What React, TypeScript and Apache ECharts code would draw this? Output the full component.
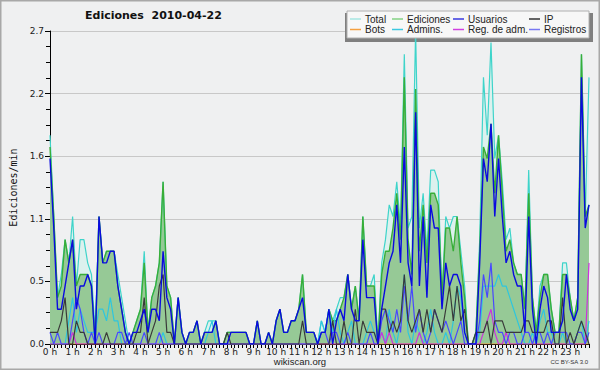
import React, { useEffect, useRef } from 'react';
import * as echarts from 'echarts';

// 144 ten-minute slots of 2010-04-22
const slots: string[] = [];
for (let h = 0; h < 24; h++) for (let m = 0; m < 60; m += 10) slots.push(`${h}:${m === 0 ? '00' : m}`);
const hourLabels = Array.from({ length: 24 }, (_, h) => `${h} h`);

const total = [
  1.8, 1.1, 0.4, 0.6, 0.9, 0.7, 1.1, 0.5, 0.9, 0.9, 0.7, 0.6, 0.1, 1.1, 0.7, 0.8, 0.8, 0.8, 0.6, 0.4, 0.2, 0.0, 0.1, 0.2,
  0.3, 0.8, 0.1, 0.4, 0.5, 0.7, 1.4, 0.5, 0.4, 0.0, 0.4, 0.1, 0.0, 0.1, 0.1, 0.2, 0.0, 0.1, 0.2, 0.2, 0.2, 0.0, 0.0, 0.1,
  0.1, 0.1, 0.1, 0.1, 0.1, 0.0, 0.0, 0.2, 0.0, 0.0, 0.1, 0.0, 0.2, 0.3, 0.1, 0.1, 0.2, 0.2, 0.3, 0.6, 0.1, 0.1, 0.1, 0.0,
  0.2, 0.1, 0.3, 0.2, 0.3, 0.4, 0.4, 0.6, 0.3, 0.5, 0.2, 1.1, 0.5, 0.5, 0.6, 0.0, 0.7, 0.9, 1.2, 1.1, 1.4, 1.0, 2.5, 1.0,
  1.1, 2.7, 1.0, 1.3, 0.8, 1.5, 1.5, 1.4, 0.4, 1.1, 1.0, 1.1, 1.1, 0.8, 0.5, 0.0, 0.0, 0.1, 0.9, 2.3, 1.8, 2.6, 1.6, 1.8,
  1.4, 0.9, 1.0, 0.7, 0.6, 0.6, 0.3, 1.5, 0.4, 0.1, 0.5, 0.6, 0.6, 0.3, 0.1, 0.1, 0.7, 0.7, 0.4, 0.2, 0.4, 2.5, 1.1, 2.3,
];
const ediciones = [
  1.7, 1.1, 0.4, 0.5, 0.9, 0.7, 0.9, 0.5, 0.6, 0.6, 0.6, 0.5, 0.0, 1.1, 0.7, 0.8, 0.8, 0.8, 0.5, 0.3, 0.1, 0.0, 0.1, 0.2,
  0.3, 0.7, 0.1, 0.4, 0.5, 0.7, 1.4, 0.5, 0.4, 0.0, 0.4, 0.1, 0.0, 0.1, 0.1, 0.2, 0.0, 0.1, 0.1, 0.1, 0.2, 0.0, 0.0, 0.1,
  0.1, 0.1, 0.1, 0.1, 0.1, 0.0, 0.0, 0.2, 0.0, 0.0, 0.1, 0.0, 0.2, 0.3, 0.1, 0.1, 0.2, 0.2, 0.3, 0.6, 0.1, 0.1, 0.1, 0.0,
  0.1, 0.1, 0.3, 0.2, 0.2, 0.3, 0.4, 0.6, 0.3, 0.5, 0.2, 1.1, 0.5, 0.5, 0.5, 0.0, 0.6, 0.8, 0.8, 1.0, 1.3, 0.9, 2.3, 0.9,
  0.6, 2.2, 0.8, 1.2, 0.7, 1.3, 1.3, 1.2, 0.4, 1.0, 1.0, 0.8, 1.1, 0.7, 0.4, 0.0, 0.0, 0.1, 0.8, 1.7, 1.6, 1.9, 1.3, 1.8,
  1.3, 0.8, 0.9, 0.7, 0.6, 0.6, 0.3, 1.3, 0.4, 0.1, 0.4, 0.6, 0.6, 0.3, 0.1, 0.1, 0.6, 0.6, 0.4, 0.2, 0.4, 2.5, 1.1, 1.2,
];
const usuarios = [
  1.6, 1.0, 0.3, 0.3, 0.5, 0.7, 0.9, 0.3, 0.5, 0.5, 0.6, 0.5, 0.0, 1.1, 0.7, 0.7, 0.8, 0.8, 0.5, 0.3, 0.1, 0.0, 0.1, 0.1,
  0.2, 0.3, 0.1, 0.3, 0.3, 0.2, 0.8, 0.4, 0.3, 0.0, 0.4, 0.1, 0.0, 0.1, 0.1, 0.2, 0.0, 0.1, 0.1, 0.1, 0.2, 0.0, 0.0, 0.0,
  0.1, 0.1, 0.1, 0.1, 0.1, 0.0, 0.0, 0.2, 0.0, 0.0, 0.1, 0.0, 0.2, 0.3, 0.1, 0.1, 0.2, 0.2, 0.3, 0.4, 0.1, 0.1, 0.1, 0.0,
  0.1, 0.1, 0.3, 0.0, 0.2, 0.3, 0.2, 0.6, 0.3, 0.2, 0.2, 0.9, 0.4, 0.4, 0.4, 0.0, 0.3, 0.5, 0.7, 0.8, 1.2, 0.7, 1.7, 0.7,
  0.5, 2.0, 0.5, 1.1, 0.4, 1.2, 1.0, 1.0, 0.3, 0.7, 0.5, 0.6, 0.6, 0.5, 0.1, 0.0, 0.0, 0.0, 0.7, 1.6, 1.4, 1.9, 1.1, 1.6,
  1.1, 0.7, 0.8, 0.6, 0.5, 0.5, 0.1, 1.1, 0.3, 0.0, 0.3, 0.5, 0.4, 0.1, 0.1, 0.1, 0.2, 0.6, 0.3, 0.2, 0.3, 2.3, 1.0, 1.2,
];
const ip = [
  0.1, 0.1, 0.1, 0.2, 0.4, 0.0, 0.0, 0.2, 0.1, 0.1, 0.0, 0.0, 0.0, 0.0, 0.0, 0.1, 0.0, 0.0, 0.0, 0.0, 0.0, 0.0, 0.0, 0.1,
  0.1, 0.4, 0.0, 0.1, 0.2, 0.5, 0.6, 0.1, 0.1, 0.0, 0.0, 0.0, 0.0, 0.0, 0.0, 0.0, 0.0, 0.0, 0.0, 0.0, 0.0, 0.0, 0.0, 0.1,
  0.0, 0.0, 0.0, 0.0, 0.0, 0.0, 0.0, 0.0, 0.0, 0.0, 0.0, 0.0, 0.0, 0.0, 0.0, 0.0, 0.0, 0.0, 0.0, 0.2, 0.0, 0.0, 0.0, 0.0,
  0.0, 0.0, 0.0, 0.2, 0.0, 0.0, 0.2, 0.0, 0.0, 0.3, 0.0, 0.2, 0.1, 0.1, 0.1, 0.0, 0.3, 0.3, 0.1, 0.2, 0.1, 0.2, 0.6, 0.2,
  0.1, 0.2, 0.3, 0.1, 0.3, 0.1, 0.3, 0.2, 0.1, 0.3, 0.5, 0.2, 0.5, 0.2, 0.3, 0.0, 0.0, 0.1, 0.1, 0.1, 0.2, 0.0, 0.2, 0.2,
  0.2, 0.1, 0.1, 0.1, 0.1, 0.1, 0.2, 0.2, 0.1, 0.1, 0.1, 0.1, 0.2, 0.2, 0.0, 0.0, 0.4, 0.0, 0.1, 0.0, 0.1, 0.2, 0.1, 0.0,
];
const bots = [
  0, 0, 0, 0, 0, 0, 0, 0, 0, 0, 0, 0, 0, 0, 0, 0, 0, 0, 0, 0, 0, 0, 0, 0,
  0, 0, 0, 0, 0, 0, 0, 0, 0, 0, 0, 0, 0, 0, 0, 0, 0, 0, 0, 0, 0, 0, 0, 0,
  0, 0, 0, 0, 0, 0, 0, 0, 0, 0, 0, 0, 0, 0, 0, 0, 0, 0, 0, 0, 0, 0, 0, 0,
  0, 0, 0, 0, 0, 0, 0, 0, 0, 0, 0, 0, 0, 0, 0, 0, 0, 0, 0, 0, 0, 0, 0, 0,
  0, 0, 0, 0, 0, 0, 0, 0, 0, 0, 0, 0, 0, 0, 0, 0, 0, 0, 0, 0, 0, 0, 0, 0,
  0, 0, 0, 0, 0, 0, 0, 0, 0, 0, 0, 0, 0, 0, 0, 0, 0, 0, 0, 0, 0, 0, 0, 0,
];
const admins = [
  0.0, 0.0, 0.0, 0.0, 0.0, 0.2, 0.4, 0.1, 0.3, 0.2, 0.1, 0.1, 0.1, 0.3, 0.3, 0.2, 0.4, 0.2, 0.2, 0.0, 0.0, 0.0, 0.0, 0.0,
  0.0, 0.0, 0.0, 0.0, 0.0, 0.0, 0.1, 0.0, 0.0, 0.0, 0.0, 0.0, 0.0, 0.0, 0.0, 0.0, 0.0, 0.0, 0.1, 0.2, 0.0, 0.0, 0.0, 0.0,
  0.0, 0.0, 0.0, 0.0, 0.0, 0.0, 0.0, 0.0, 0.0, 0.0, 0.0, 0.0, 0.0, 0.0, 0.0, 0.0, 0.0, 0.0, 0.0, 0.0, 0.0, 0.0, 0.0, 0.0,
  0.2, 0.1, 0.3, 0.1, 0.3, 0.1, 0.0, 0.1, 0.2, 0.0, 0.0, 0.0, 0.1, 0.2, 0.1, 0.0, 0.1, 0.0, 0.3, 0.1, 0.0, 0.2, 0.6, 0.1,
  0.0, 0.2, 0.1, 0.0, 0.1, 0.3, 0.1, 0.0, 0.0, 0.1, 0.0, 0.2, 0.5, 0.4, 0.1, 0.0, 0.0, 0.0, 0.1, 0.5, 0.5, 0.5, 0.5, 0.6,
  0.5, 0.5, 0.4, 0.3, 0.2, 0.1, 0.0, 0.0, 0.1, 0.0, 0.2, 0.3, 0.1, 0.1, 0.0, 0.0, 0.1, 0.0, 0.0, 0.0, 0.1, 0.2, 0.0, 0.2,
];
const regAdm = [
  0, 0, 0, 0, 0, 0, 0.1, 0, 0, 0, 0, 0, 0, 0, 0, 0, 0, 0, 0, 0, 0, 0, 0, 0,
  0, 0, 0, 0, 0, 0, 0, 0, 0, 0, 0, 0, 0, 0, 0, 0, 0, 0, 0, 0, 0, 0, 0, 0,
  0, 0, 0, 0, 0, 0, 0, 0, 0, 0, 0, 0, 0, 0, 0, 0, 0, 0, 0, 0, 0, 0, 0, 0,
  0, 0, 0, 0, 0, 0, 0, 0, 0, 0, 0, 0, 0, 0, 0, 0, 0.1, 0, 0.1, 0, 0, 0, 0, 0,
  0, 0, 0.1, 0, 0, 0, 0, 0, 0, 0, 0, 0, 0, 0, 0, 0, 0, 0, 0, 0.1, 0.2, 0.3, 0.1, 0,
  0, 0.1, 0, 0, 0, 0, 0, 0, 0, 0, 0, 0, 0, 0, 0, 0, 0, 0, 0, 0, 0, 0, 0, 0.7,
];
const registros = [
  0.1, 0.0, 0.1, 0.0, 0.0, 0.0, 0.2, 0.4, 0.3, 0.1, 0.0, 0.1, 0.0, 0.1, 0.0, 0.0, 0.0, 0.0, 0.1, 0.1, 0.0, 0.1, 0.0, 0.0,
  0.0, 0.1, 0.0, 0.0, 0.0, 0.1, 0.0, 0.0, 0.0, 0.0, 0.0, 0.0, 0.0, 0.0, 0.0, 0.0, 0.0, 0.0, 0.0, 0.0, 0.0, 0.0, 0.0, 0.0,
  0.0, 0.0, 0.0, 0.0, 0.0, 0.0, 0.0, 0.0, 0.0, 0.0, 0.0, 0.0, 0.0, 0.0, 0.0, 0.0, 0.0, 0.0, 0.0, 0.0, 0.0, 0.0, 0.0, 0.0,
  0.1, 0.1, 0.0, 0.1, 0.1, 0.0, 0.0, 0.1, 0.0, 0.0, 0.0, 0.0, 0.0, 0.1, 0.0, 0.0, 0.2, 0.3, 0.2, 0.1, 0.3, 0.1, 0.5, 0.2,
  0.5, 0.1, 0.3, 0.1, 0.0, 0.1, 0.3, 0.2, 0.1, 0.2, 0.1, 0.0, 0.1, 0.2, 0.0, 0.0, 0.0, 0.0, 0.2, 0.6, 0.4, 0.7, 0.2, 0.1,
  0.1, 0.0, 0.1, 0.1, 0.0, 0.0, 0.1, 0.1, 0.0, 0.1, 0.1, 0.0, 0.1, 0.0, 0.1, 0.1, 0.1, 0.1, 0.0, 0.0, 0.1, 0.1, 0.0, 0.1,
];

const legendRows = [
  ['Total', 'Ediciones', 'Usuarios', 'IP'],
  ['Bots', 'Admins.', 'Reg. de adm.', 'Registros'],
];
const legendColumnsX = [350, 392, 453, 529];
const legendRowsY = [14, 24.5];
const swatch: Record<string, string> = {
  'Total': '#a6e6e2',
  'Ediciones': '#84d284',
  'Usuarios': '#3a3ae0',
  'IP': '#333333',
  'Bots': '#f5a040',
  'Admins.': '#3cc8e0',
  'Reg. de adm.': '#d040e0',
  'Registros': '#7878f2',
};

export default function App() {
  const ref = useRef<HTMLDivElement>(null);
  useEffect(() => {
    if (!ref.current) return;
    const chart = echarts.init(ref.current, undefined, { renderer: 'svg' });
    const line = (name: string, data: number[], color: string, width = 1.2, extra: any = {}) => ({
      name,
      type: 'line',
      data,
      symbol: 'none',
      silent: true,
      itemStyle: { color },
      lineStyle: { color, width },
      ...extra,
    });
    const legends: any[] = [];
    legendRows.forEach((row, r) =>
      row.forEach((name, c) => {
        legends.push({
          data: [{ name, itemStyle: { color: swatch[name] } }],
          left: legendColumnsX[c],
          top: legendRowsY[r],
          padding: 0,
          icon: 'rect',
          itemWidth: 11,
          itemHeight: 1.5,
          selectedMode: false,
          z: 10,
          textStyle: { fontFamily: 'Liberation Sans', fontSize: 10, color: '#222', padding: [0, 0, 0, -1] },
        });
      })
    );
    const option: any = {
      animation: false,
      backgroundColor: '#eff0f1',
      title: {
        text: 'Ediciones  2010-04-22',
        left: 85,
        top: 10,
        padding: 0,
        textStyle: { fontFamily: 'DejaVu Sans', fontSize: 11, fontWeight: 'bold', color: '#111' },
      },
      legend: legends,
      grid: { left: 46, right: 11, top: 31, bottom: 26 },
      xAxis: {
        type: 'category',
        data: slots,
        boundaryGap: false,
        axisLine: { lineStyle: { color: '#000', width: 1 } },
        axisTick: { show: true, interval: 0, length: 4, lineStyle: { color: '#000' } },
        axisLabel: {
          interval: 5,
          margin: 3,
          fontFamily: 'DejaVu Sans',
          fontSize: 9,
          color: '#222',
          formatter: (_v: string, i: number) => hourLabels[Math.floor(i / 6)],
        },
        splitLine: { show: false },
      },
      yAxis: {
        type: 'value',
        min: 0,
        max: 2.7,
        interval: 0.54,
        name: 'Ediciones/min',
        nameLocation: 'middle',
        nameRotate: 90,
        nameGap: 32,
        nameTextStyle: { fontFamily: 'DejaVu Sans Mono', fontSize: 10, color: '#111' },
        axisLine: { show: true, lineStyle: { color: '#000', width: 1 } },
        axisTick: { show: true, length: 5, lineStyle: { color: '#000' } },
        minorTick: { show: true, splitNumber: 4, length: 4, lineStyle: { color: '#000' } },
        axisLabel: {
          margin: 6,
          fontFamily: 'DejaVu Sans',
          fontSize: 9,
          color: '#222',
          formatter: (v: number) => v.toFixed(1),
        },
        splitLine: { show: true, lineStyle: { color: '#c8c8c8', width: 1 } },
      },
      series: [
        line('Total', total, '#3ed4ca', 1.2, { areaStyle: { color: '#dcf1ee', opacity: 1 } }),
        line('Ediciones', ediciones, '#38ae38', 1.4, { areaStyle: { color: '#96c996', opacity: 1 } }),
        line('Bots', bots, '#f5a040'),
        line('Admins.', admins, '#2ec6de'),
        line('Reg. de adm.', regAdm, '#cc33dd'),
        line('Registros', registros, '#4848ff'),
        line('IP', ip, '#3a3a3a'),
        line('Usuarios', usuarios, '#0a0ae0', 1.4),
      ],
      graphic: [
        { type: 'rect', z: 3, shape: { x: 345, y: 13, width: 248, height: 29 }, style: { fill: '#7f7f7f' } },
        { type: 'rect', z: 4, shape: { x: 347, y: 11, width: 242, height: 27 }, style: { fill: '#f7f7f7', stroke: '#b0b0b0', lineWidth: 1 } },
        {
          type: 'text', z: 10, x: 300, y: 361,
          style: { text: 'wikiscan.org', fontFamily: 'Liberation Sans', fontSize: 9.5, fill: '#222', textAlign: 'center', textVerticalAlign: 'middle' },
        },
        {
          type: 'text', z: 10, x: 588, y: 362,
          style: { text: 'CC BY-SA 3.0', fontFamily: 'Liberation Sans', fontSize: 6, fill: '#333', textAlign: 'right', textVerticalAlign: 'middle' },
        },
        { type: 'rect', z: 10, shape: { x: 0.75, y: 0.75, width: 598.5, height: 368.5 }, style: { fill: 'none', stroke: '#a8a8a8', lineWidth: 1.5 } },
      ],
    };
    chart.setOption(option);
    return () => chart.dispose();
  }, []);
  return (
    <div
      ref={ref}
      style={{ position: 'absolute', left: 0, top: 0, width: 600, height: 370, background: '#eff0f1' }}
    />
  );
}
